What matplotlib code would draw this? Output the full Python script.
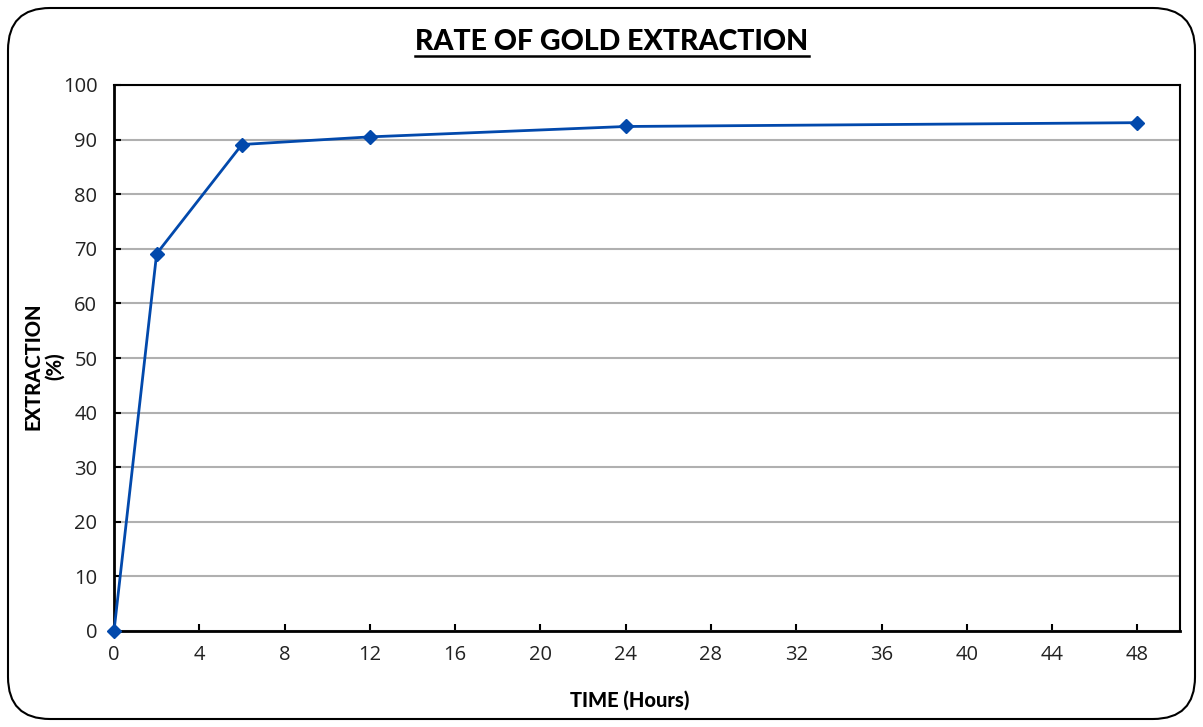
import matplotlib
matplotlib.use("Agg")
import matplotlib.pyplot as plt
from matplotlib.patches import FancyBboxPatch
from matplotlib.lines import Line2D

hours = [0, 2, 6, 12, 24, 48]
extraction = [0, 69.1, 89.1, 90.5, 92.4, 93.1]
x_ticks = list(range(0, 49, 4))
y_ticks = list(range(0, 101, 10))
title = "RATE OF GOLD EXTRACTION"
xlabel = "TIME (Hours)"
ylabel = "EXTRACTION\n(%)"

plt.rcParams['font.family'] = ['Lato', 'DejaVu Sans']

fig = plt.figure(figsize=(12.03, 7.27), dpi=100)
W, H = 1203, 727
ax = fig.add_axes([114 / W, 1 - 631 / H, (1180 - 114) / W, (631 - 85) / H])

ax.plot(hours, extraction, color='#0249AC', lw=2, marker='D', ms=7,
        markerfacecolor='#0249AC', markeredgecolor='#0249AC', zorder=5, clip_on=False)

ax.set_xlim(0, 50)
ax.set_ylim(0, 100)
ax.set_xticks(x_ticks)
ax.set_yticks(y_ticks)
ax.tick_params(direction='in', length=5, width=1.5, labelsize=14.5,
               colors='black', labelcolor='#222222')
ax.tick_params(axis='x', pad=10)
ax.tick_params(axis='y', pad=12)
for lbl in ax.get_xticklabels() + ax.get_yticklabels():
    lbl.set_family(['Open Sans', 'DejaVu Sans'])
    lbl.set_fontweight('normal')
ax.yaxis.grid(True, color='#B0B0B0', lw=1.5)
ax.set_axisbelow(True)
for s in ['left', 'bottom']:
    ax.spines[s].set_linewidth(2)
for s in ['top', 'right']:
    ax.spines[s].set_linewidth(1.5)

fig.text(44 / W, 1 - 366 / H, ylabel, rotation=90, ha='center', va='center',
         fontsize=14.5, fontweight='black', linespacing=1.15)
fig.text(630 / W, 1 - 700 / H, xlabel, ha='center', va='center',
         fontsize=14.5, fontweight='black')
t = fig.text(612 / W, 1 - 42 / H, title, ha='center', va='center',
             fontsize=20.5, fontweight='black')

frame = FancyBboxPatch((8 / W, 8 / H), (1195 - 8) / W, (719 - 8) / H,
                       boxstyle="round,pad=0,rounding_size=0.035",
                       transform=fig.transFigure, fill=False, ec='black', lw=1.5,
                       mutation_aspect=W / H)
fig.patches.append(frame)

fig.canvas.draw()
bb = t.get_window_extent().transformed(fig.transFigure.inverted())
uy = 1 - 56 / H
fig.add_artist(Line2D([bb.x0, bb.x1], [uy, uy], color='black', lw=1.8,
                      transform=fig.transFigure))

fig.savefig("out.png", dpi=100)
